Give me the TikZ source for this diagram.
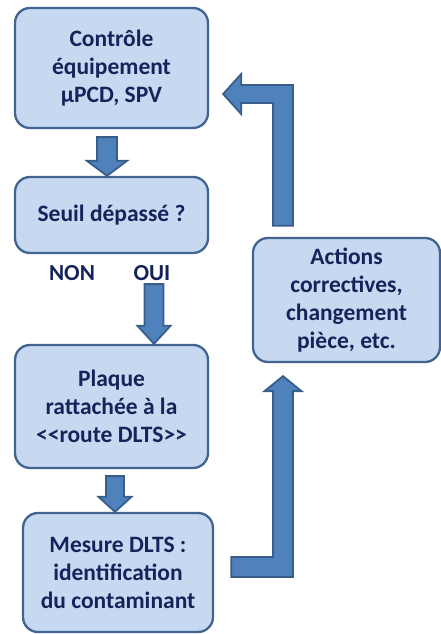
\documentclass[tikz,border=0pt]{standalone}
\usepackage{fontspec}
\usepackage{tikz}
\usetikzlibrary{positioning,calc}
\newfontfamily\boxfont{Carlito}
\definecolor{boxfill}{RGB}{198,217,241}
\definecolor{boxline}{RGB}{65,100,145}
\definecolor{arrfill}{RGB}{79,129,189}
\definecolor{arrline}{RGB}{56,93,138}
\definecolor{txtblue}{RGB}{20,36,90}

% block arrow going down: start, tip, half shaft, half head, head length
\newcommand\blockdown[5]{%
  \draw[blk] ($(#1)+(-#3,0)$) -- ($(#2)+(-#3,#5)$) -- ($(#2)+(-#4,#5)$)
    -- (#2) -- ($(#2)+(#4,#5)$) -- ($(#2)+(#3,#5)$) -- ($(#1)+(#3,0)$) -- cycle;}

\begin{document}
\begin{tikzpicture}[x=1pt,y=1pt,
  stepbox/.style={rectangle, rounded corners=15pt, draw=boxline, line width=2.3pt,
                  fill=boxfill, text=txtblue, align=center, inner sep=0pt,
                  font=\boxfont\bfseries\fontsize{23.5}{28}\selectfont},
  lbl/.style={text=txtblue, font=\boxfont\bfseries\fontsize{23}{28}\selectfont},
  blk/.style={fill=arrfill, draw=arrline, line width=1.8pt, line join=miter}
]
  \useasboundingbox (0,0) rectangle (441,634);

  \node[stepbox, minimum width=193, minimum height=120](ctrl) at (111.5,566)
    {Contrôle\\équipement\\µPCD, SPV};
  \node[stepbox, minimum width=193, minimum height=76](seuil) at (111.5,419)
    {Seuil dépassé ?};
  \node[stepbox, minimum width=193, minimum height=123](plaque) at (111.5,227.5)
    {Plaque\\rattachée à la\\<<route DLTS>>};
  \node[stepbox, minimum width=190, minimum height=119](mesure) at (118,61.5)
    {Mesure DLTS :\\identification\\du contaminant};
  \node[stepbox, minimum width=187, minimum height=124](actions) at (346.5,334)
    {Actions\\correctives,\\changement\\pièce, etc.};

  \node[lbl](non) at (72,361){NON};
  \node[lbl](oui) at (152,361){OUI};

  % straight arrows
  \coordinate (a1s) at ($(ctrl.south)+(-4.5,-8)$);
  \coordinate (a1e) at ($(seuil.north)+(-4.5,0)$);
  \blockdown{a1s}{a1e}{10}{20}{15}
  \coordinate (a2s) at ($(seuil.south)+(42.5,-30)$);
  \coordinate (a2e) at ($(plaque.north)+(42.5,0)$);
  \blockdown{a2s}{a2e}{9.5}{16.5}{18}
  \coordinate (a3s) at ($(plaque.south)+(3.5,-7)$);
  \coordinate (a3e) at ($(mesure.north)+(-3,0)$);
  \blockdown{a3s}{a3e}{9}{16.5}{15}

  % elbow arrow: mesure -> actions
  \coordinate (a4s) at ($(mesure.east)+(17,5.5)$);
  \coordinate (a4e) at ($(actions.south)+(-63.5,-13)$);
  \draw[blk] ($(a4s)+(0,-10)$) -- ($(a4e|-a4s)+(10,-10)$) -- ($(a4e)+(10,-15)$)
    -- ($(a4e)+(18.5,-15)$) -- (a4e) -- ($(a4e)+(-18.5,-15)$) -- ($(a4e)+(-10,-15)$)
    -- ($(a4e|-a4s)+(-10,10)$) -- ($(a4s)+(0,10)$) -- cycle;

  % elbow arrow: actions -> ctrl
  \coordinate (a5s) at ($(actions.north)+(-63.5,11)$);
  \coordinate (a5e) at ($(ctrl.east)+(14,-26)$);
  \draw[blk] ($(a5s)+(10,0)$) -- ($(a5s|-a5e)+(10,9)$) -- ($(a5e)+(18,9)$)
    -- ($(a5e)+(18,20)$) -- (a5e) -- ($(a5e)+(18,-20)$) -- ($(a5e)+(18,-9)$)
    -- ($(a5s|-a5e)+(-10,-9)$) -- ($(a5s)+(-10,0)$) -- cycle;
\end{tikzpicture}
\end{document}
